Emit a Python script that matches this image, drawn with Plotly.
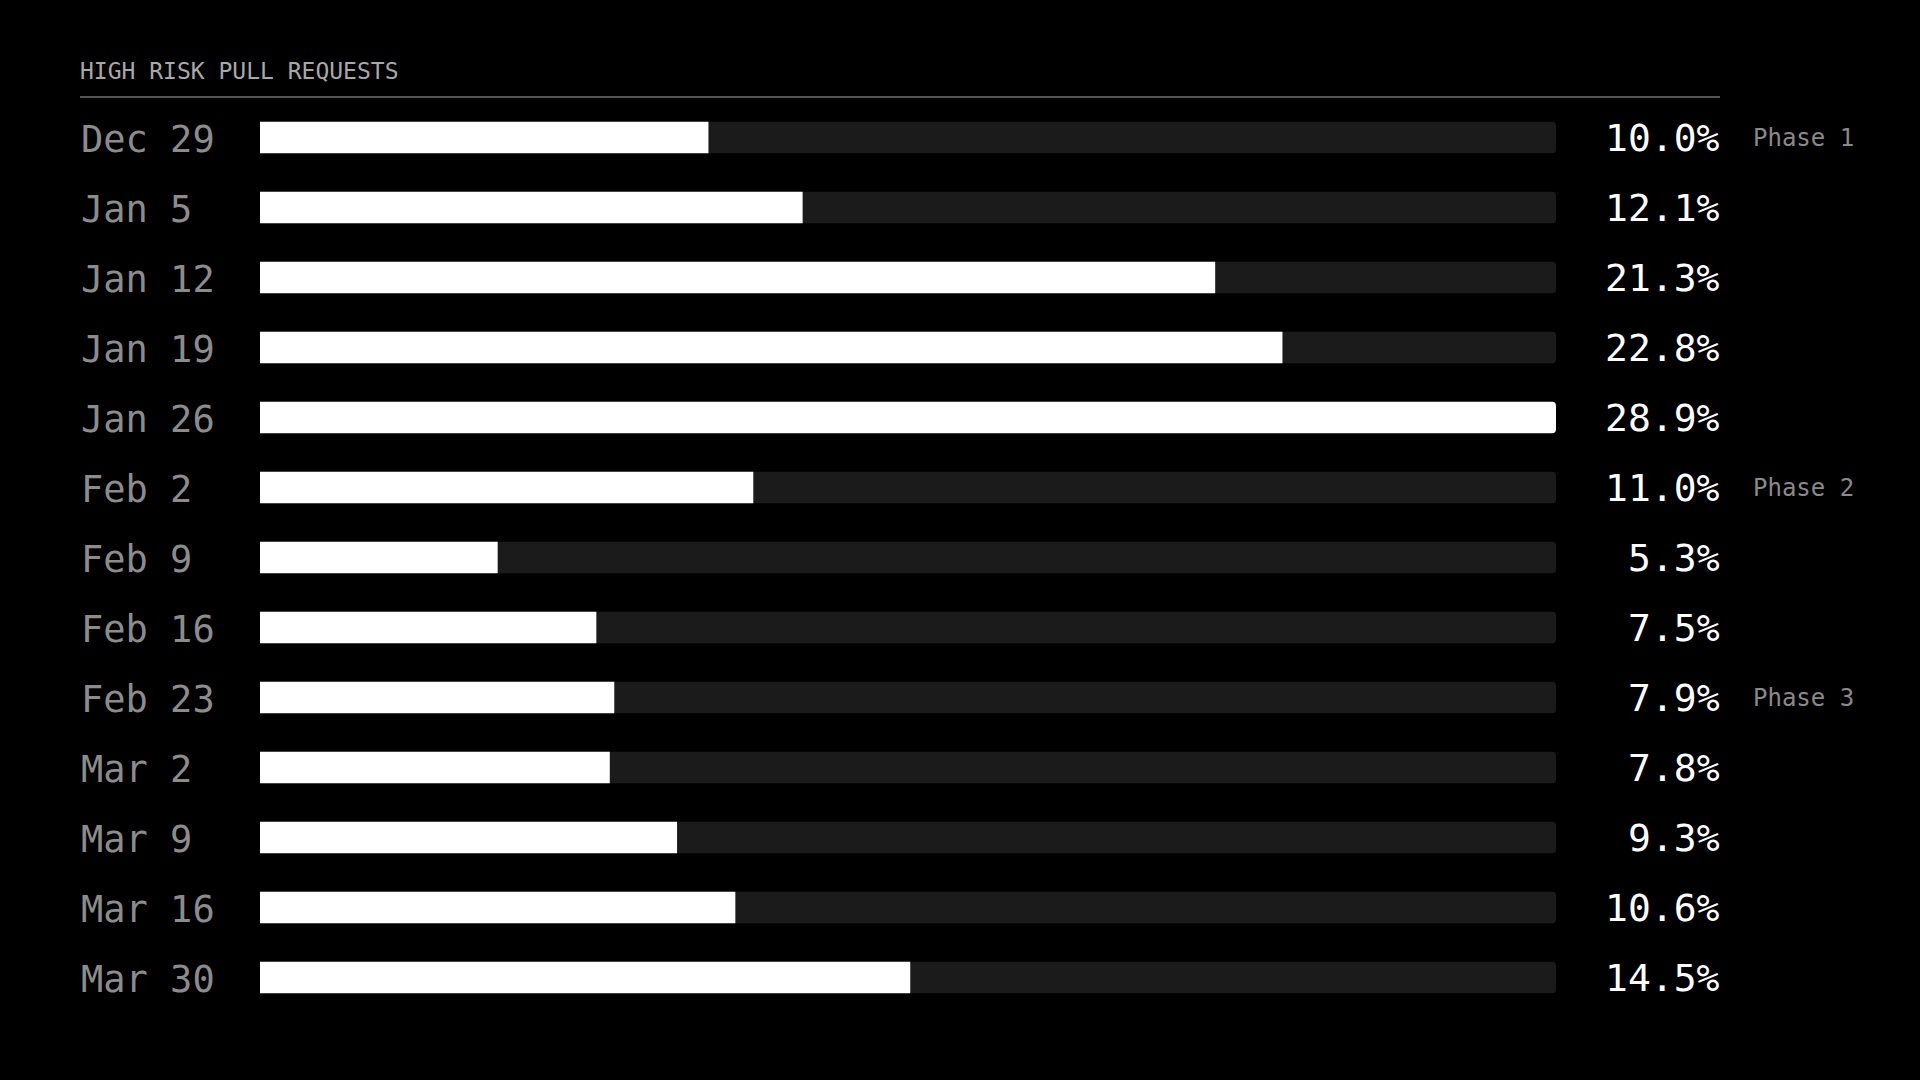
import plotly.graph_objects as go

W, H = 1920, 1080
FONT = "DejaVu Sans Mono"

weeks = ["Dec 29", "Jan 5", "Jan 12", "Jan 19", "Jan 26", "Feb 2", "Feb 9",
         "Feb 16", "Feb 23", "Mar 2", "Mar 9", "Mar 16", "Mar 30"]
high_risk_pct = [10.0, 12.1, 21.3, 22.8, 28.9, 11.0, 5.3, 7.5, 7.9, 7.8, 9.3, 10.6, 14.5]
phase_labels = {"Dec 29": "Phase 1", "Feb 2": "Phase 2", "Feb 23": "Phase 3"}
title_text = "HIGH RISK PULL REQUESTS"

max_pct = max(high_risk_pct)

fig = go.Figure()

# background tracks (full width = max value)
fig.add_trace(go.Bar(
    y=weeks, x=[max_pct] * len(weeks), orientation="h",
    marker=dict(color="#1b1b1b", line=dict(width=0)),
    width=0.45, hoverinfo="skip", showlegend=False,
))
# actual values
fig.add_trace(go.Bar(
    y=weeks, x=high_risk_pct, orientation="h",
    marker=dict(color="#ffffff", line=dict(width=0)),
    width=0.45, showlegend=False,
    hovertemplate="%{y}: %{x:.1f}%<extra></extra>",
))

# row labels, values, phase notes
row_px = 70
top_px = 137.5
annotations = []
for w, v in zip(weeks, high_risk_pct):
    annotations.append(dict(
        x=79 / W, xref="paper", y=w, yref="y", xanchor="left", yanchor="middle",
        yshift=-2,
        text=w, showarrow=False, font=dict(family=FONT, size=37, color="#8c8c8c"),
    ))
    annotations.append(dict(
        x=1722 / W, xref="paper", y=w, yref="y", xanchor="right", yanchor="middle",
        text=f"{v:.1f}%", showarrow=False, font=dict(family=FONT, size=38, color="#ffffff"),
    ))
    if w in phase_labels:
        annotations.append(dict(
            x=1751 / W, xref="paper", y=w, yref="y", xanchor="left", yanchor="middle",
            text=phase_labels[w], showarrow=False, font=dict(family=FONT, size=24, color="#8a8a8a"),
        ))

annotations.append(dict(
    x=78 / W, xref="paper", y=1 - 71 / H, yref="paper", xanchor="left", yanchor="middle",
    text=title_text, showarrow=False, font=dict(family=FONT, size=23, color="#a8a8a8"),
))

fig.update_layout(
    width=W, height=H,
    paper_bgcolor="#000000", plot_bgcolor="#000000",
    margin=dict(l=0, r=0, t=0, b=0),
    barmode="overlay", barcornerradius=4,
    annotations=annotations,
    shapes=[dict(type="line", xref="paper", yref="paper",
                 x0=80 / W, x1=1720 / W, y0=1 - 97 / H, y1=1 - 97 / H,
                 line=dict(color="#555555", width=2))],
    xaxis=dict(domain=[260 / W, 1556 / W], range=[0, max_pct],
               visible=False, fixedrange=True),
    yaxis=dict(type="category", categoryarray=weeks,
               range=[(H - top_px) / row_px, -top_px / row_px],
               visible=False, fixedrange=True),
    font=dict(family=FONT),
)

# drop the browser's default body margin so the chart fills the window
fig.write_html("out.html", config={"displayModeBar": False},
               post_script="document.body.style.margin='0';document.body.style.background='#000';")
